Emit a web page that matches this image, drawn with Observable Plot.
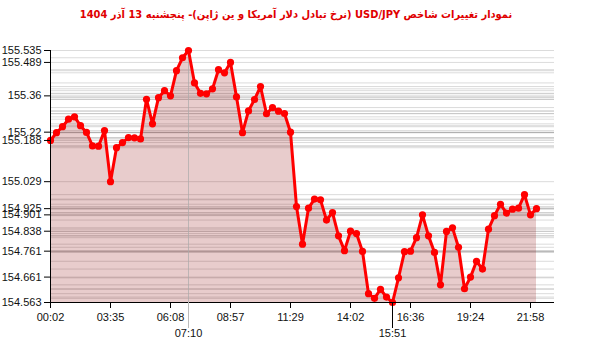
<!DOCTYPE html>
<html>
<head>
<meta charset="utf-8">
<script src="https://cdn.jsdelivr.net/npm/d3@7"></script>
<script src="https://cdn.jsdelivr.net/npm/@observablehq/plot@0.6"></script>
<style>
  html, body { margin: 0; padding: 0; background: #fff; }
  #title { width: 600px; height: 30px; text-align: center; color: #e00000;
           font: bold 11px "DejaVu Sans Condensed", "DejaVu Sans", sans-serif; line-height: 30px;
           white-space: nowrap; padding-right: 8px; box-sizing: border-box; }
  #chart svg { display: block; overflow: visible; }
</style>
</head>
<body>
<div id="title" dir="rtl">نمودار تغییرات شاخص USD/JPY (نرخ تبادل دلار آمریکا و ین ژاپن)- پنجشنبه  13 آذر 1404</div>
<div id="chart"></div>
<script>
const values = [
  155.188, 155.218, 155.241, 155.270, 155.279, 155.245, 155.219, 155.167, 155.166, 155.226,
  155.029, 155.160, 155.180, 155.199, 155.198, 155.194, 155.347, 155.252, 155.353, 155.380,
  155.360, 155.457, 155.507, 155.535, 155.410, 155.370, 155.368, 155.387, 155.461, 155.449,
  155.489, 155.356, 155.218, 155.302, 155.346, 155.396, 155.291, 155.315, 155.301, 155.292,
  155.220, 154.933, 154.788, 154.927, 154.962, 154.959, 154.881, 154.910, 154.820, 154.763,
  154.838, 154.829, 154.760, 154.597, 154.579, 154.614, 154.584, 154.563, 154.658, 154.759,
  154.761, 154.813, 154.901, 154.820, 154.756, 154.631, 154.837, 154.851, 154.776, 154.616,
  154.661, 154.722, 154.692, 154.846, 154.898, 154.942, 154.908, 154.923, 154.927, 154.979,
  154.901, 154.925
];
const xTickIndex = [0, 10, 20, 30, 40, 50, 60, 70, 80];
const xTickLabels = ["00:02", "03:35", "06:08", "08:57", "11:29", "14:02", "16:36", "19:24", "21:58"];
const maxLabel = "07:10";
const minLabel = "15:51";
const yTicks = [155.535, 155.489, 155.36, 155.22, 155.188, 155.029, 154.925, 154.901, 154.838, 154.761, 154.661, 154.563];

const data = values.map((v, i) => ({i, v}));
const yMin = d3.min(values), yMax = d3.max(values);
const maxIdx = d3.maxIndex(values), minIdx = d3.minIndex(values);

const chart = Plot.plot({
  width: 600, height: 322,
  marginLeft: 50, marginRight: 46, marginTop: 20, marginBottom: 50,
  x: {type: "linear", domain: [0, 84], axis: null},
  y: {domain: [yMin, yMax], axis: null},
  style: {fontFamily: "'Liberation Sans', Arial, sans-serif", fontSize: "11px", color: "#111", background: "#fff"},
  marks: [
    Plot.ruleY(values, {stroke: "#999", strokeOpacity: 0.35}),
    Plot.areaY(data, {x: "i", y1: yMin, y2: "v", fill: "#8b0000", fillOpacity: 0.2}),
    Plot.ruleX([maxIdx], {stroke: "#aaa", strokeOpacity: 0.7}),
    Plot.line(data, {x: "i", y: "v", stroke: "#ff0000", strokeWidth: 3}),
    Plot.dot(data, {x: "i", y: "v", r: 3.6, fill: "#ff0000"}),
    Plot.ruleX([0], {stroke: "#000"}),
    Plot.ruleY([yMin], {stroke: "#000"}),
    Plot.axisX(xTickIndex, {label: null, tickSize: 6, tickPadding: 5, stroke: "#000", tickFormat: (d, i) => xTickLabels[i]}),
    Plot.axisX([maxIdx], {label: null, tickSize: 26, tickPadding: 1, stroke: "#bbb", fill: "#111", tickFormat: () => maxLabel}),
    Plot.axisX([minIdx], {label: null, tickSize: 26, tickPadding: 1, stroke: "#000", fill: "#111", tickFormat: () => minLabel}),
    Plot.axisY(yTicks, {label: null, tickSize: 6, tickPadding: 3, stroke: "#000", tickFormat: d => String(d)})
  ]
});
document.getElementById("chart").appendChild(chart);
</script>
</body>
</html>
